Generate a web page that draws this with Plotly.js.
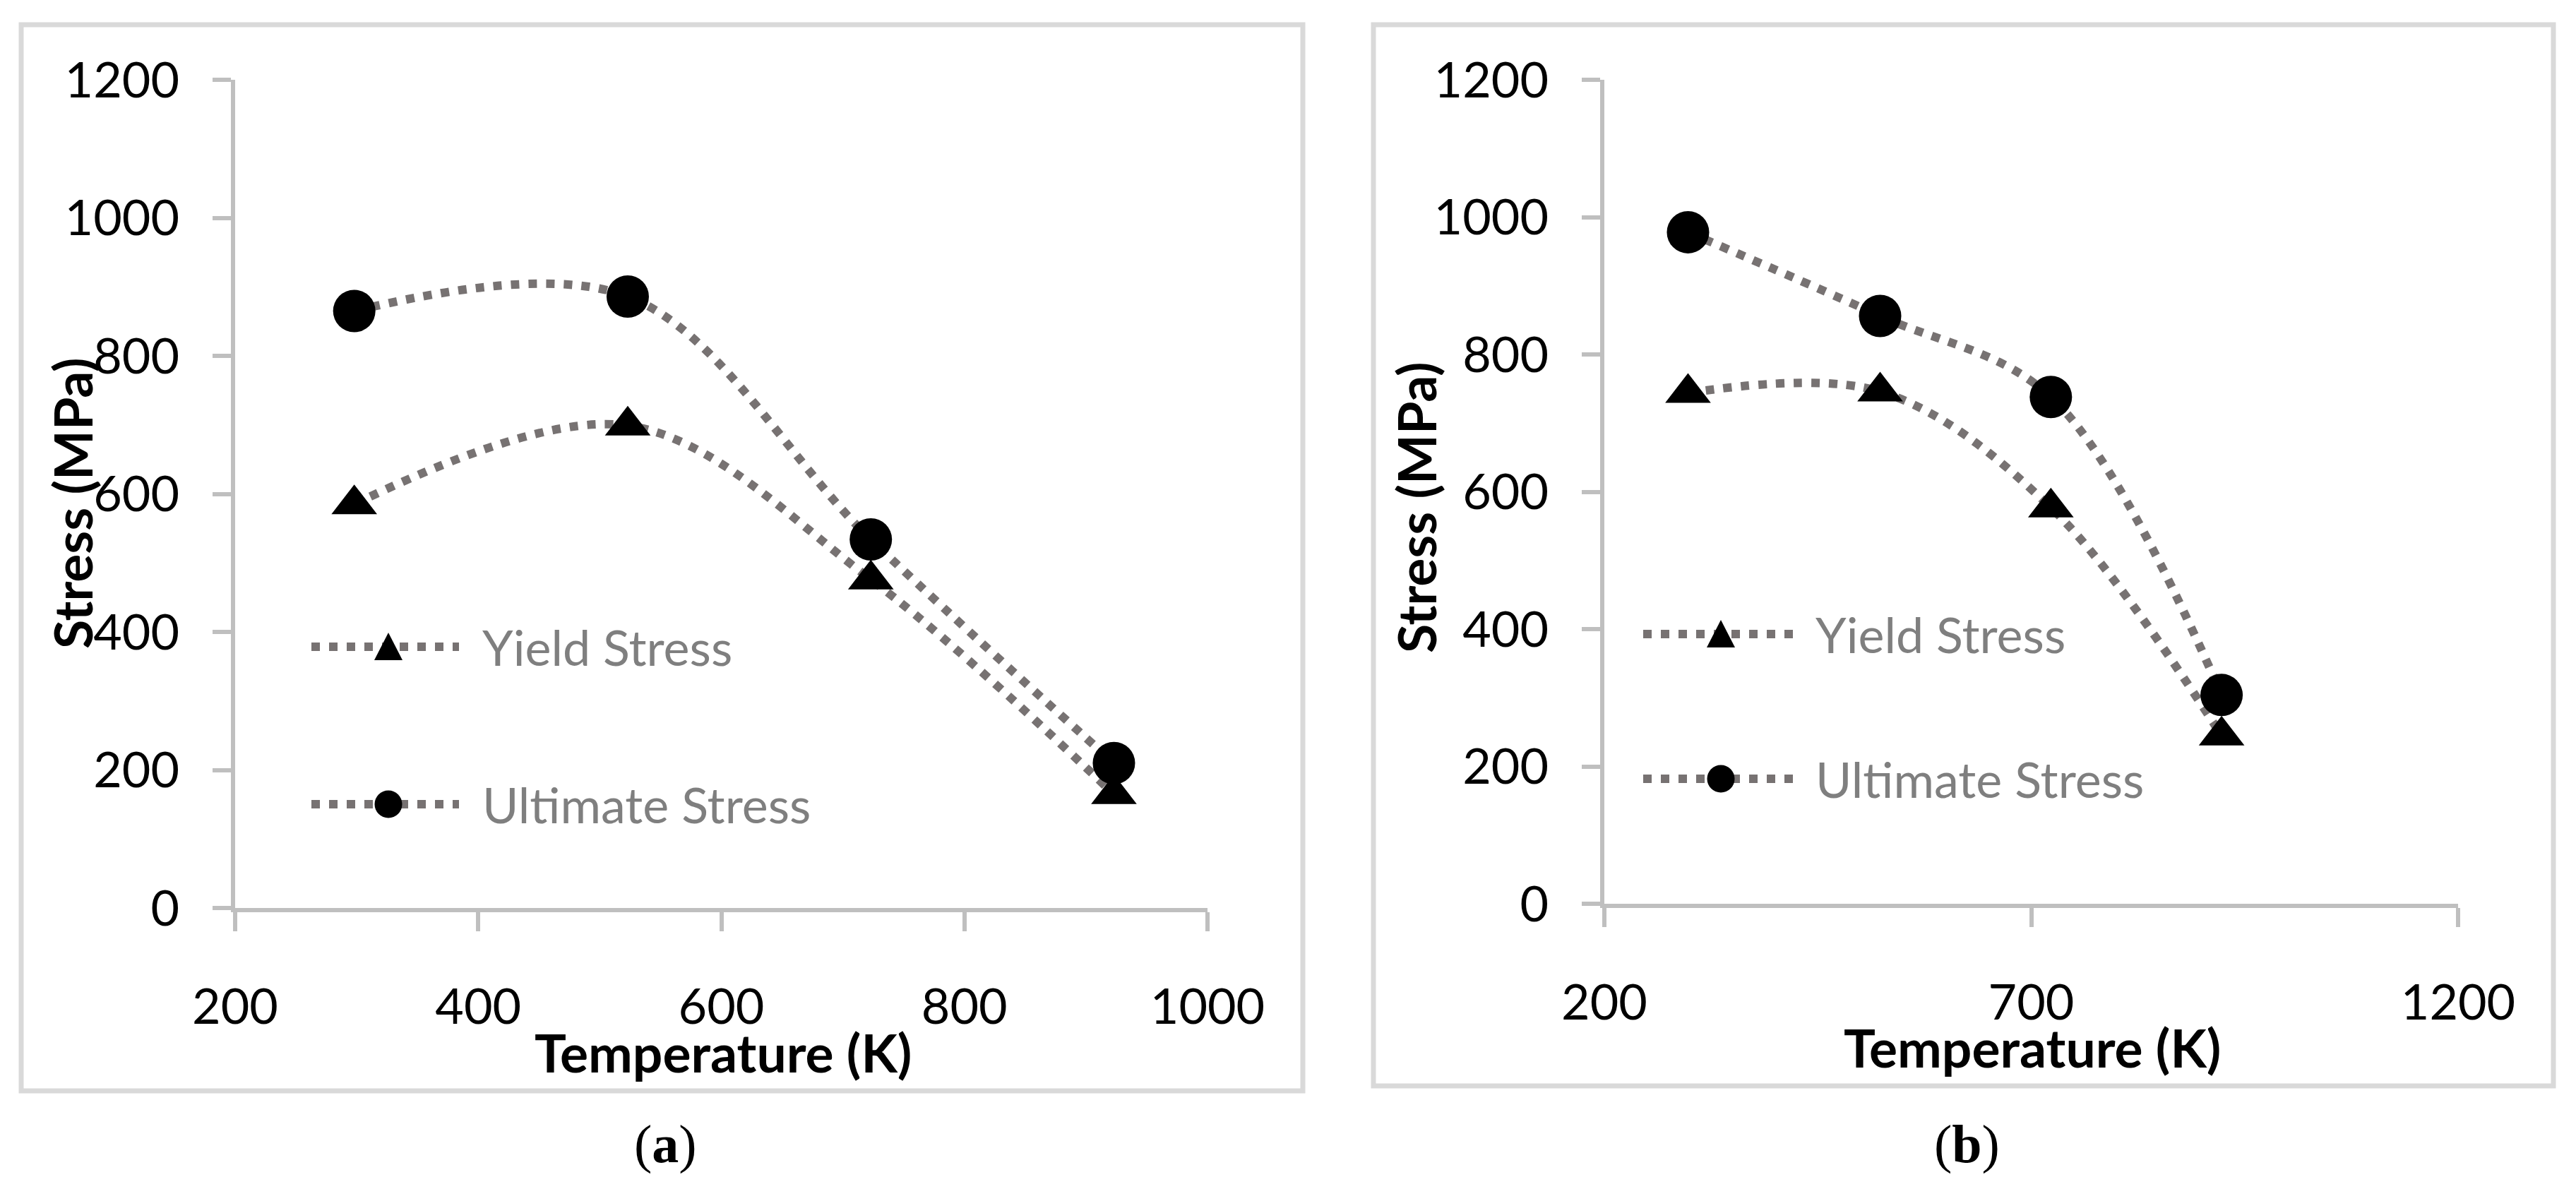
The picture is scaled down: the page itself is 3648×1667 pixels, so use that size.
<!DOCTYPE html>
<html>
<head>
<meta charset="utf-8">
<script src="https://cdn.plot.ly/plotly-3.0.1.min.js"></script>
<style>
  html, body { margin: 0; padding: 0; background: #fff; }
  #chart { width: 3648px; height: 1667px; }
</style>
</head>
<body>
<div id="chart"></div>
<script>
// Temperatures (K) shared by both panels
const temps = [298, 523, 723, 923];

// Panel (a)
const yieldA = [585, 699, 476, 165];
const ultimateA = [865, 886, 534, 210];

// Panel (b)
const yieldB = [744, 746, 577, 245];
const ultimateB = [978, 856, 738, 304];

const seriesNames = ['Yield Stress', 'Ultimate Stress'];
const panelLabels = ['(<b>a</b>)', '(<b>b</b>)'];

const W = 3648, H = 1667;
const px = x => x / W;          // pixel -> paper x
const py = y => 1 - y / H;      // pixel -> paper y

const lineColor = '#777272';
const axisColor = '#bfbfbf';
const frameColor = '#d9d9d9';
const dotDash = '12px,13px';
const font = 'Lato, "Open Sans", sans-serif';

function series(x, y, symbol, size, xa, ya, name) {
    return {
        x: x, y: y, name: name,
        xaxis: xa, yaxis: ya,
        type: 'scatter', mode: 'lines+markers',
        line: {color: lineColor, width: 12, dash: dotDash, shape: 'spline', smoothing: 1},
        marker: {symbol: symbol, size: size, color: '#000', line: {width: 0}},
        showlegend: false
    };
}

const data = [
    series(temps, yieldA, 'triangle-up', 56, 'x', 'y', seriesNames[0]),
    series(temps, ultimateA, 'circle', 60, 'x', 'y', seriesNames[1]),
    series(temps, yieldB, 'triangle-up', 56, 'x2', 'y2', seriesNames[0]),
    series(temps, ultimateB, 'circle', 60, 'x2', 'y2', seriesNames[1])
];

function xAxis(domain, range, dtick, anchor) {
    return {
        domain: domain, range: range, dtick: dtick, tick0: 200, anchor: anchor,
        showgrid: false, zeroline: false,
        showline: true, linecolor: axisColor, linewidth: 6,
        ticks: 'outside', ticklen: 27, tickwidth: 6, tickcolor: axisColor,
        ticklabelstandoff: 47,
        tickfont: {family: font, size: 70, color: '#000'}
    };
}
function yAxis(domain, anchor) {
    return {
        domain: domain, range: [0, 1200], dtick: 200, anchor: anchor,
        showgrid: false, zeroline: false,
        showline: true, linecolor: axisColor, linewidth: 6,
        ticks: 'outside', ticklen: 26, tickwidth: 6, tickcolor: axisColor,
        ticklabelstandoff: 33,
        tickfont: {family: font, size: 70, color: '#000'}
    };
}

// panel frames
function frame(x0, y0, x1, y1) {
    return {type: 'rect', xref: 'paper', yref: 'paper',
        x0: px(x0), x1: px(x1), y0: py(y1), y1: py(y0),
        line: {color: frameColor, width: 7}, fillcolor: 'rgba(0,0,0,0)', layer: 'below'};
}

// in-plot legend keys, drawn like the spreadsheet legend
function legendKey(x0, x1, xm, y, symbol) {
    const out = [{
        type: 'line', xref: 'paper', yref: 'paper',
        x0: px(x0), x1: px(x1), y0: py(y), y1: py(y),
        line: {color: lineColor, width: 12, dash: dotDash}
    }];
    if (symbol === 'circle') {
        out.push({type: 'circle', xref: 'paper', yref: 'paper',
            xsizemode: 'pixel', ysizemode: 'pixel', xanchor: px(xm), yanchor: py(y),
            x0: -19.5, x1: 19.5, y0: -19.5, y1: 19.5,
            fillcolor: '#000', line: {width: 0}});
    } else {
        out.push({type: 'path', xref: 'paper', yref: 'paper',
            xsizemode: 'pixel', ysizemode: 'pixel', xanchor: px(xm), yanchor: py(y),
            path: 'M -20 -19 L 20 -19 L 0 20 Z',
            fillcolor: '#000', line: {width: 0}});
    }
    return out;
}

function legendText(x, y, text) {
    return {xref: 'paper', yref: 'paper', x: px(x), y: py(y), xanchor: 'left', yanchor: 'middle',
        text: text, showarrow: false, font: {family: font, size: 70, color: '#7f7f7f'}};
}

function title(x, y, text, angle) {
    return {xref: 'paper', yref: 'paper', x: px(x), y: py(y), xanchor: 'center', yanchor: 'middle',
        text: '<b>' + text + '</b>', textangle: angle, showarrow: false,
        font: {family: font, size: 75, color: '#000'}};
}

function panelLabel(x, y, text) {
    return {xref: 'paper', yref: 'paper', x: px(x), y: py(y), xanchor: 'center', yanchor: 'middle',
        text: text, showarrow: false, font: {family: '"Liberation Serif", serif', size: 76, color: '#000'}};
}

const shapes = [
    frame(30, 35, 1845, 1545),
    frame(1945, 35, 3616, 1538),
    ...legendKey(441, 650, 550, 916, 'triangle'),
    ...legendKey(441, 650, 550, 1139, 'circle'),
    ...legendKey(2327, 2540, 2437, 898, 'triangle'),
    ...legendKey(2327, 2540, 2437, 1103, 'circle')
];

const annotations = [
    title(102, 713, 'Stress (MPa)', -90),
    title(2005, 718, 'Stress (MPa)', -90),
    title(1024, 1490, 'Temperature (K)', 0),
    title(2878, 1483, 'Temperature (K)', 0),
    legendText(681, 916, seriesNames[0]),
    legendText(681, 1139, seriesNames[1]),
    legendText(2569, 898, seriesNames[0]),
    legendText(2569, 1103, seriesNames[1]),
    panelLabel(942, 1620, panelLabels[0]),
    panelLabel(2785, 1620, panelLabels[1])
];

const layout = {
    width: W, height: H,
    margin: {t: 0, l: 0, r: 0, b: 0},
    paper_bgcolor: '#fff', plot_bgcolor: '#fff',
    showlegend: false,
    xaxis: xAxis([px(333), px(1710)], [200, 1000], 200, 'y'),
    yaxis: yAxis([py(1286), py(113)], 'x'),
    xaxis2: xAxis([px(2272), px(3481)], [200, 1200], 500, 'y2'),
    yaxis2: yAxis([py(1280), py(113)], 'x2'),
    shapes: shapes,
    annotations: annotations
};

Plotly.newPlot('chart', data, layout, {staticPlot: true, displayModeBar: false});
</script>
</body>
</html>
